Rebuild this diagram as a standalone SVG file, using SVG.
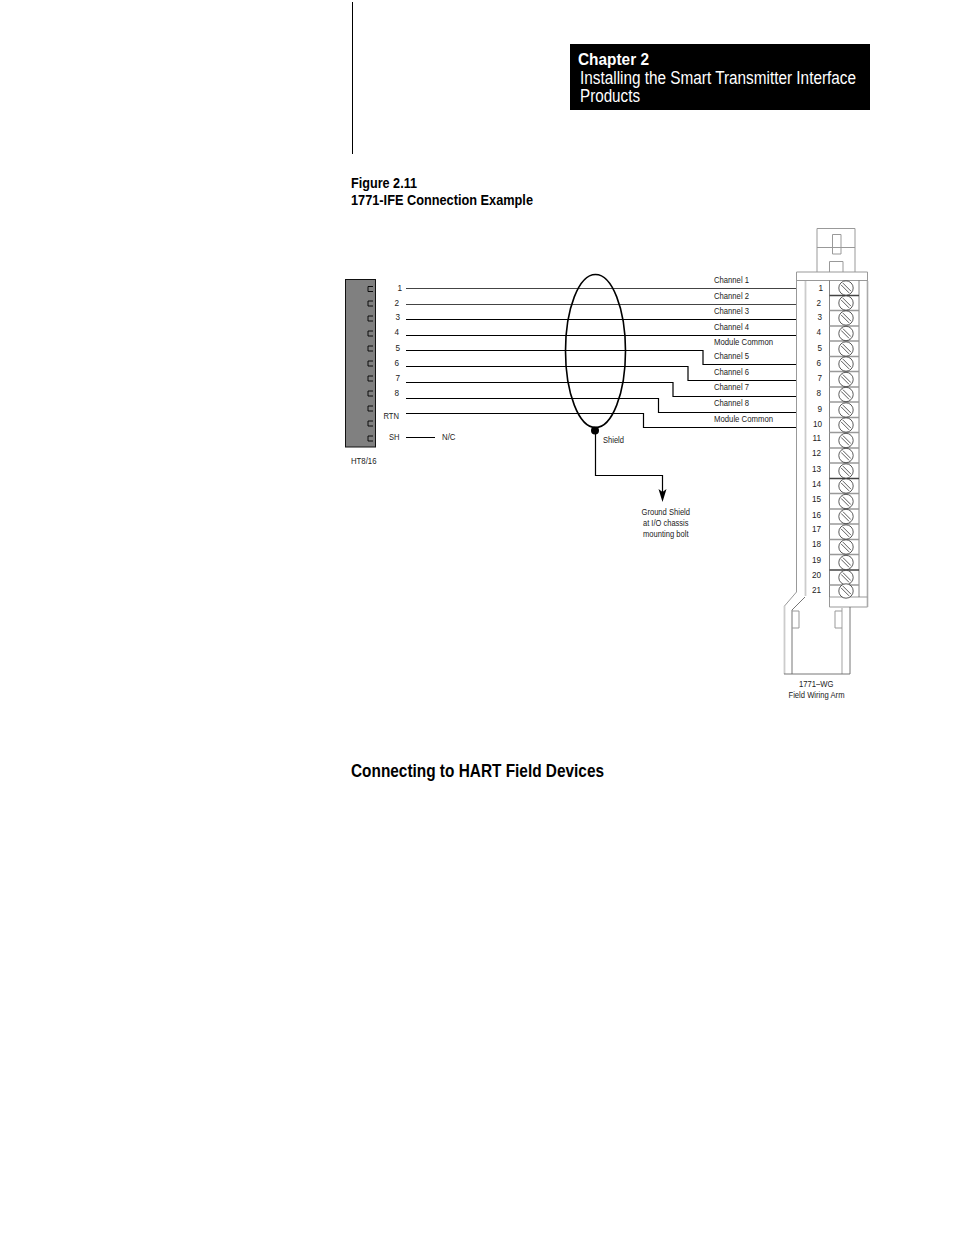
<svg xmlns="http://www.w3.org/2000/svg" width="954" height="1235" viewBox="0 0 954 1235">
<style>
text{font-family:"Liberation Sans",Arial,sans-serif;fill:#000}
.s{font-size:8.2px;fill:#222}
.m{text-anchor:middle}
.e{text-anchor:end}
.b{font-weight:bold}
.w{fill:none;stroke:#000;stroke-width:1.2}
.g{fill:none;stroke:#999;stroke-width:1}
.gl{fill:none;stroke:#ccc;stroke-width:1.8}
.sc{fill:#fff;stroke:#333;stroke-width:.8}
</style>
<defs>
<g id="screw"><circle r="7.200" class="sc"/><path d="M-4.900 -3.100L3.100 4.900M-3.100 -4.900L4.900 3.100" fill="none" stroke="#333" stroke-width=".8"/></g>
</defs>
<line x1="352.500" y1="2" x2="352.500" y2="154" stroke="#000" stroke-width="1"/>
<g id="header">
<rect x="570" y="44" width="300" height="66" fill="#000"/>
<text x="578" y="65" font-size="17" font-weight="bold" style="fill:#fff" textLength="71" lengthAdjust="spacingAndGlyphs">Chapter 2</text>
<text x="580" y="84" font-size="17.500" style="fill:#fff" textLength="276" lengthAdjust="spacingAndGlyphs">Installing the Smart Transmitter Interface</text>
<text x="580" y="102" font-size="17.500" style="fill:#fff" textLength="60" lengthAdjust="spacingAndGlyphs">Products</text>
</g>
<g id="caption">
<text x="351" y="188" font-size="14" class="b" textLength="66" lengthAdjust="spacingAndGlyphs">Figure 2.11</text>
<text x="351" y="205" font-size="14" class="b" textLength="182" lengthAdjust="spacingAndGlyphs">1771-IFE Connection Example</text>
</g>
<text x="351" y="777" font-size="17.500" class="b" textLength="253" lengthAdjust="spacingAndGlyphs">Connecting to HART Field Devices</text>
<g id="connector-ht">
<rect x="345.500" y="279.500" width="30" height="167.500" fill="#808080" stroke="#111" stroke-width="1"/>
<path fill="none" stroke="#000" stroke-width=".9" d="M373 286.500h-5v5h5M373 301h-5v5h5M373 316h-5v5h5M373 331h-5v5h5M373 346h-5v5h5M373 361h-5v5h5M373 376h-5v5h5M373 391h-5v5h5M373 406h-5v5h5M373 421h-5v5h5M373 436h-5v5h5"/>
<text class="s e" x="402" y="291">1</text><text class="s e" x="399" y="306">2</text><text class="s e" x="400" y="320">3</text><text class="s e" x="399" y="335">4</text><text class="s e" x="400" y="351">5</text><text class="s e" x="399" y="366">6</text><text class="s e" x="400" y="381">7</text><text class="s e" x="399" y="396">8</text>
<text class="s" x="383.500" y="419" textLength="15.500" lengthAdjust="spacingAndGlyphs">RTN</text><text class="s" x="389" y="440" textLength="10.500" lengthAdjust="spacingAndGlyphs">SH</text>
<text class="s" x="442" y="440" textLength="13.500" lengthAdjust="spacingAndGlyphs">N/C</text>
<text class="s" x="351" y="464" textLength="25.500" lengthAdjust="spacingAndGlyphs">HT8/16</text>
</g>
<g id="connectors">
<path fill="none" stroke="#444" stroke-width="1" d="M406 288.500H796M406 304.500H796"/>
<path class="w" d="M406 319.500H796M406 335.500H796M406 350.500H703V364.500H796M406 366.500H688V380.500H796M406 382.500H673V396.500H796M406 398.500H658.500V412.500H796M406 413.500H643.500V427.500H796M406 437.500H435"/>
<ellipse cx="595.500" cy="351" rx="30" ry="76.500" fill="none" stroke="#000" stroke-width="1.600"/>
<circle cx="595" cy="430.500" r="4" fill="#000"/>
<path class="w" d="M595.500 430V475.500H662.500V492"/>
<path d="M658.500 489L662.500 492L666.500 489L662.500 502Z" fill="#000"/>
</g>
<g id="labels">
<text class="s" x="714" y="283" textLength="35" lengthAdjust="spacingAndGlyphs">Channel 1</text><text class="s" x="714" y="299" textLength="35" lengthAdjust="spacingAndGlyphs">Channel 2</text><text class="s" x="714" y="314" textLength="35" lengthAdjust="spacingAndGlyphs">Channel 3</text><text class="s" x="714" y="330" textLength="35" lengthAdjust="spacingAndGlyphs">Channel 4</text><text class="s" x="714" y="345" textLength="59" lengthAdjust="spacingAndGlyphs">Module Common</text><text class="s" x="714" y="359" textLength="35" lengthAdjust="spacingAndGlyphs">Channel 5</text><text class="s" x="714" y="375" textLength="35" lengthAdjust="spacingAndGlyphs">Channel 6</text><text class="s" x="714" y="390" textLength="35" lengthAdjust="spacingAndGlyphs">Channel 7</text><text class="s" x="714" y="406" textLength="35" lengthAdjust="spacingAndGlyphs">Channel 8</text><text class="s" x="714" y="422" textLength="59" lengthAdjust="spacingAndGlyphs">Module Common</text>
<text class="s" x="603" y="443" textLength="21" lengthAdjust="spacingAndGlyphs">Shield</text>
<text class="s" x="641.500" y="515" textLength="48.500" lengthAdjust="spacingAndGlyphs">Ground Shield</text><text class="s" x="643" y="526" textLength="45.500" lengthAdjust="spacingAndGlyphs">at I/O chassis</text><text class="s" x="643" y="537" textLength="45.500" lengthAdjust="spacingAndGlyphs">mounting bolt</text>
<text class="s" x="799" y="687" textLength="34.500" lengthAdjust="spacingAndGlyphs">1771–WG</text><text class="s" x="788.500" y="698" textLength="56" lengthAdjust="spacingAndGlyphs">Field Wiring Arm</text>
</g>
<g id="wiring-arm">
<path class="g" d="M817 272V228.500H855V272M817 247.500H855M832.500 234.500H841V254H832.500ZM829.500 272V261.500H843V272"/>
<path class="g" d="M796.500 272H867.500V607H829.500M796.500 272V592L784.500 606M796.500 280.500H867.500"/>
<path fill="none" stroke="#aaa" stroke-width="1.600" d="M867.500 281V607"/>
<path class="gl" d="M805.500 281V596M784.500 606V674M842 607V674"/>
<path d="M805 597L792 610V674M850 607V674M784 674H850" fill="none" stroke="#666" stroke-width=".9"/>
<path class="g" d="M792 611H799V628H792M842 611H835V628H842M829.500 597H867.500M829.500 597V607"/>
<path d="M829.500 280.500V597M859 280.500V597" fill="none" stroke="#666" stroke-width=".8"/>
<path fill="none" stroke="#999" stroke-width="1.300" d="M829.500 310.500H859M829.500 326H859M829.500 341H859M829.500 356.500H859M829.500 371.500H859M829.500 387H859M829.500 402H859M829.500 417.500H859M829.500 432.500H859M829.500 448H859M829.500 463H859M829.500 493.500H859M829.500 509H859M829.500 524H859M829.500 539.500H859M829.500 554.500H859M829.500 585H859"/>
<path fill="none" stroke="#444" stroke-width="1.300" d="M829.500 295.500H859M829.500 478.500H859M829.500 570H859"/>
<use href="#screw" x="846" y="288"/><use href="#screw" x="846" y="303"/><use href="#screw" x="846" y="318"/><use href="#screw" x="846" y="333.500"/><use href="#screw" x="846" y="349"/><use href="#screw" x="846" y="364"/><use href="#screw" x="846" y="379.500"/><use href="#screw" x="846" y="394.500"/><use href="#screw" x="846" y="410"/><use href="#screw" x="846" y="425"/><use href="#screw" x="846" y="440.500"/><use href="#screw" x="846" y="455.500"/><use href="#screw" x="846" y="471"/><use href="#screw" x="846" y="486"/><use href="#screw" x="846" y="501.500"/><use href="#screw" x="846" y="516.500"/><use href="#screw" x="846" y="532"/><use href="#screw" x="846" y="547"/><use href="#screw" x="846" y="562.500"/><use href="#screw" x="846" y="577.500"/><use href="#screw" x="846" y="591"/>
<text class="s e" x="823" y="291">1</text><text class="s e" x="821" y="306">2</text><text class="s e" x="822" y="320">3</text><text class="s e" x="821" y="335">4</text><text class="s e" x="822" y="351">5</text><text class="s e" x="821" y="366">6</text><text class="s e" x="822" y="381">7</text><text class="s e" x="821" y="396">8</text><text class="s e" x="822" y="412">9</text><text class="s e" x="822" y="427">10</text><text class="s e" x="821" y="441">11</text><text class="s e" x="821" y="456">12</text><text class="s e" x="821" y="472">13</text><text class="s e" x="821" y="487">14</text><text class="s e" x="821" y="502">15</text><text class="s e" x="821" y="518">16</text><text class="s e" x="821" y="532">17</text><text class="s e" x="821" y="547">18</text><text class="s e" x="821" y="563">19</text><text class="s e" x="821" y="578">20</text><text class="s e" x="821" y="593">21</text>
</g>
</svg>
